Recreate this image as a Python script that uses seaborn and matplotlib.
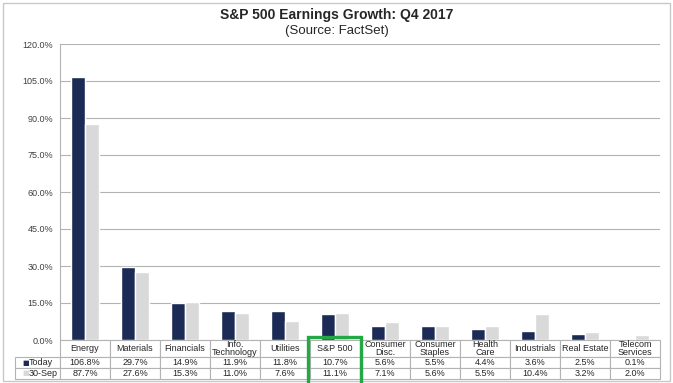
import pandas as pd
import matplotlib.pyplot as plt
import seaborn as sns
from matplotlib.patches import Rectangle

# ---------------------------------------------------------
# data
# ---------------------------------------------------------
sectors = ['Energy', 'Materials', 'Financials', 'Info.\nTechnology', 'Utilities',
           'S&P 500', 'Consumer\nDisc.', 'Consumer\nStaples', 'Health\nCare',
           'Industrials', 'Real Estate', 'Telecom\nServices']
today = [106.8, 29.7, 14.9, 11.9, 11.8, 10.7, 5.6, 5.5, 4.4, 3.6, 2.5, 0.1]
sep30 = [87.7, 27.6, 15.3, 11.0, 7.6, 11.1, 7.1, 5.6, 5.5, 10.4, 3.2, 2.0]
series = ['Today', '30-Sep']
yticks = [0, 15, 30, 45, 60, 75, 90, 105, 120]

NAVY = '#1b2b55'
LIGHT = '#d9d9d9'
GRID = '#b3b3b3'
GREEN = '#22a845'

df = pd.DataFrame({
    'sector': sectors * 2,
    'growth': today + sep30,
    'series': [series[0]] * len(sectors) + [series[1]] * len(sectors),
})

# ---------------------------------------------------------
# plot
# ---------------------------------------------------------
sns.set_style('white')
plt.rcParams['font.family'] = ['Liberation Sans', 'DejaVu Sans']

fig = plt.figure(figsize=(6.73, 3.83), dpi=100)
ax = fig.add_axes([60 / 673, 1 - 340 / 383, 600 / 673, 296 / 383])

sns.barplot(data=df, x='sector', y='growth', hue='series', order=sectors,
            hue_order=series, palette=[NAVY, LIGHT], width=0.56, saturation=1,
            ax=ax, legend=False)

ax.set_xlim(-0.5, len(sectors) - 0.5)
ax.set_ylim(0, 120)
ax.set_yticks(yticks)
ax.set_yticklabels([f'{v:.1f}%' for v in yticks], fontsize=6.5, color='#404040')
ax.tick_params(axis='y', length=0, pad=5)
ax.set_xticks([])
ax.set_xlabel('')
ax.set_ylabel('')
ax.grid(axis='y', color=GRID, linewidth=0.8)
ax.set_axisbelow(True)
for side in ['top', 'right', 'bottom']:
    ax.spines[side].set_visible(False)
ax.spines['left'].set_color(GRID)
ax.spines['left'].set_linewidth(0.8)

# data table under the bars
cell_text = [[''] + sectors,
             ['Today'] + [f'{v:.1f}%' for v in today],
             ['30-Sep'] + [f'{v:.1f}%' for v in sep30]]
tab = ax.table(cellText=cell_text, cellLoc='center',
               bbox=[-45 / 600, -39 / 296, 645 / 600, 39 / 296])
tab.auto_set_font_size(False)
tab.set_fontsize(6.5)
for (r, c), cell in tab.get_celld().items():
    cell.set_edgecolor(GRID)
    cell.set_linewidth(0.8)
    cell.set_width(45 if c == 0 else 50)
    cell.set_height(17 if r == 0 else 11)
    cell.get_text().set_color('#262626')
    cell.get_text().set_linespacing(0.95)
    if c == 0:
        cell.get_text().set_ha('left')
        cell._loc = 'left'
        cell.PAD = 0.31
    if r == 0 and c == 0:
        cell.visible_edges = ''

# legend keys in the row labels
fig.text(22 / 673, 1 - 362.5 / 383, '■', color=NAVY, fontsize=5, va='center',
         family=['DejaVu Sans'])
fig.text(22 / 673, 1 - 373.5 / 383, '■', color=LIGHT, fontsize=5, va='center',
         family=['DejaVu Sans'])

fig.text(0.5, 1 - 15 / 383, 'S&P 500 Earnings Growth: Q4 2017', ha='center',
         va='center', fontsize=10, fontweight='bold')
fig.text(0.5, 1 - 31 / 383, '(Source: FactSet)', ha='center', va='center',
         fontsize=9.5)

# outer frame and highlight around the index column
fig.patches.append(Rectangle((3 / 673, 2 / 383), 667 / 673, 378 / 383,
                             transform=fig.transFigure, fill=False,
                             edgecolor='#c8c8c8', linewidth=1))
fig.patches.append(Rectangle((308 / 673, -5 / 383), 53 / 673, 51 / 383,
                             transform=fig.transFigure, fill=False,
                             edgecolor=GREEN, linewidth=2.4, clip_on=False))

plt.savefig('out.png', dpi=100)
